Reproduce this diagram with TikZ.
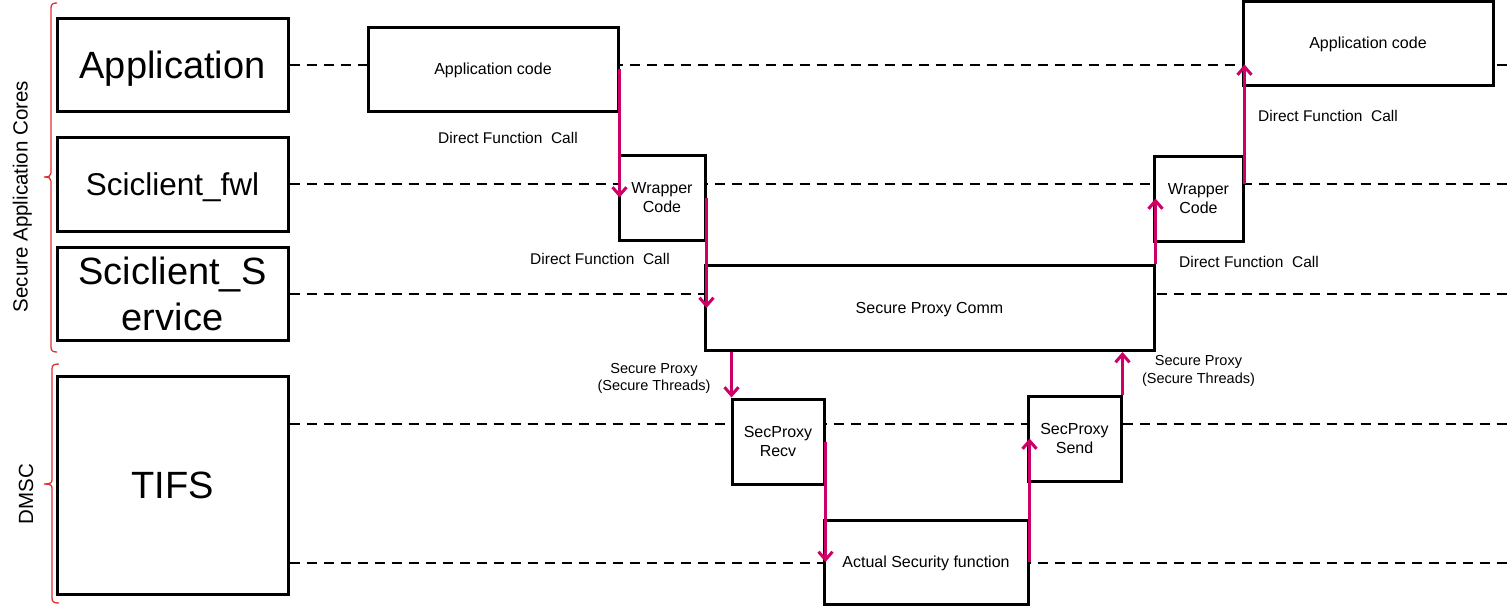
\documentclass[tikz,border=0pt]{standalone}
\usepackage{fontspec}
\setmainfont{Liberation Sans}
\usetikzlibrary{arrows.meta,calc}
\definecolor{arrowpink}{RGB}{204,0,102}
\definecolor{bracered}{RGB}{225,50,50}
\begin{document}
\begin{tikzpicture}[x=1pt,y=-1pt,
  lane/.style={draw=black, line width=3pt, fill=white, inner sep=0pt, align=center},
  box/.style={lane, font=\fontsize{16}{19}\selectfont},
  nodepth/.style={text depth=0pt},
  life/.style={draw=black, line width=2pt, dash pattern=on 10pt off 7pt},
  parrow/.style={draw=arrowpink, line width=3pt, -{Straight Barb[length=8pt,width=14pt]}},
  lbl/.style={inner sep=0pt, font=\fontsize{15.5}{18}\selectfont},
  slbl/.style={inner sep=0pt, align=center, font=\fontsize{14.5}{17.5}\selectfont},
  brace/.style={draw=bracered, line width=1.3pt},
  glbl/.style={inner sep=0pt, rotate=90, anchor=base, font=\fontsize{20.5}{24}\selectfont}
]
\useasboundingbox (0,0) rectangle (1507,606);
\fill[white] (0,0) rectangle (1507,606);
\coordinate (R) at (1507,0);

% left lanes
\node[lane, nodepth, minimum width=231pt, minimum height=93pt, font=\fontsize{38}{46}\selectfont] (app) at (172.5,64.5) {Application};
\node[lane, nodepth, minimum width=231pt, minimum height=94pt, font=\fontsize{31.5}{38}\selectfont] (fwl) at (172.5,184) {Sciclient\_fwl};
\node[lane, minimum width=231pt, minimum height=93pt, font=\fontsize{38}{46}\selectfont] (svc) at (172.5,293.5) {Sciclient\_S\\ervice};
\node[lane, minimum width=231pt, minimum height=218pt, font=\fontsize{38}{46}\selectfont] (tifs) at (172.5,485) {TIFS};

% lifelines
\coordinate (tl1) at ($(tifs.north east)+(0,49)$);
\coordinate (tl2) at ($(tifs.south east)+(0,-33)$);
\draw[life] (app.east) -- (app.east -| R);
\draw[life] (fwl.east) -- (fwl.east -| R);
\draw[life] (svc.east) -- (svc.east -| R);
\draw[life] (tl1) -- (tl1 -| R);
\draw[life] (tl2) -- (tl2 -| R);

% activity boxes
\node[box, nodepth, minimum width=250pt, minimum height=84pt] (ac1) at (493,69) {Application code};
\node[box, minimum width=86pt, minimum height=85pt] (w1) at (662,197.5) {Wrapper\\Code};
\node[box, nodepth, minimum width=449pt, minimum height=85pt] (spc) at (929.5,308) {Secure Proxy Comm};
\node[box, minimum width=92pt, minimum height=85pt] (recv) at (778,441.5) {SecProxy\\Recv};
\node[box, nodepth, minimum width=204pt, minimum height=84pt] (asf) at (926,562) {Actual Security function};
\node[box, minimum width=93pt, minimum height=85pt] (send) at (1074.5,438.5) {SecProxy\\Send};
\node[box, minimum width=89pt, minimum height=85pt] (w2) at (1198.5,198.5) {Wrapper\\Code};
\node[box, nodepth, minimum width=250pt, minimum height=84pt] (ac2) at (1368,43) {Application code};

% labels
\node[lbl] (d1) at (508,138) {Direct Function\ \ Call};
\node[lbl] (d2) at (600,259) {Direct Function\ \ Call};
\node[lbl] (d3) at (1249,262) {Direct Function\ \ Call};
\node[lbl] (d4) at (1328,116) {Direct Function\ \ Call};
\node[slbl] (s1) at (654,378.5) {Secure Proxy\\(Secure Threads)};
\node[slbl] (s2) at (1198.5,371) {Secure Proxy\\(Secure Threads)};

% arrows
\draw[parrow] (ac1.east) -- (ac1.east |- w1.center);
\draw[parrow] (w1.east) -- (w1.east |- spc.center);
\draw[parrow] ($(spc.south west)+(28,0)$) -- ($(recv.north west)+(1,0)$);
\draw[parrow] (recv.east) -- (recv.east |- asf.center);
\draw[parrow] (asf.east) -- (asf.east |- send.center);
\draw[parrow] (send.north east) -- (send.north east |- spc.south);
\draw[parrow] (spc.north east) -- (spc.north east |- w2.center);
\draw[parrow] (w2.east |- fwl.east) -- (w2.east |- app.east);

% group braces
\draw[brace] (57,3) .. controls (53,3) and (51,4) .. (51,8) -- (51,173)
  .. controls (51,176) and (49,177) .. (44,177)
  .. controls (49,177) and (51,178) .. (51,181) -- (51,347)
  .. controls (51,351) and (53,352) .. (57,352);
\draw[brace] (59,364) .. controls (54,364) and (52,365) .. (52,369) -- (52,480)
  .. controls (52,483) and (50,484) .. (44,484)
  .. controls (50,484) and (52,485) .. (52,488) -- (52,598)
  .. controls (52,602) and (54,603) .. (59,603);
\node[glbl] (gsac) at (27.5,196.5) {Secure Application Cores};
\node[glbl] (gdmsc) at (33,494) {DMSC};
\end{tikzpicture}
\end{document}
